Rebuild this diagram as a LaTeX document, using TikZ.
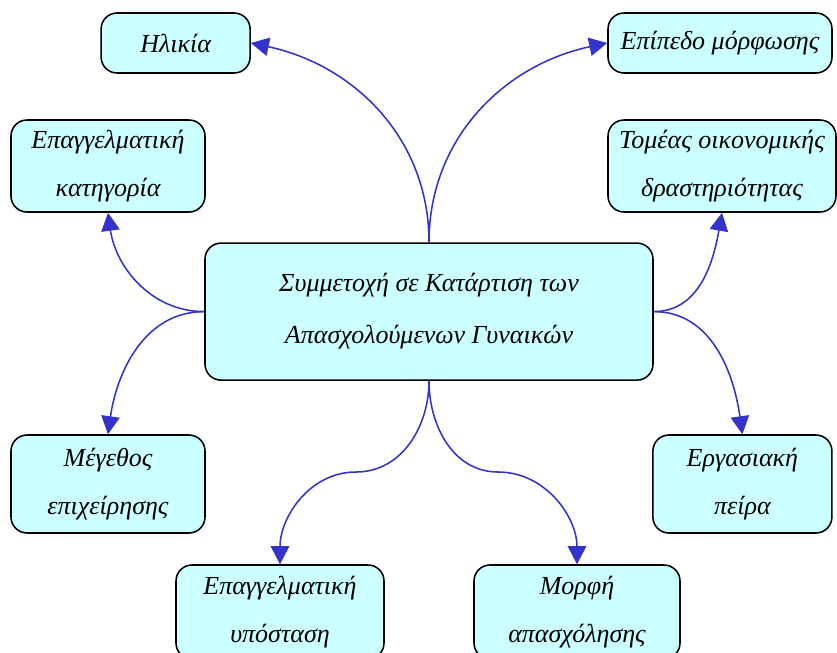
\documentclass[tikz,border=0pt]{standalone}
\usepackage{fontspec}
\setmainfont{Liberation Serif}
\usetikzlibrary{arrows.meta}

\definecolor{boxfill}{RGB}{204,255,255}
\definecolor{linkblue}{RGB}{51,51,204}

\begin{document}
\begin{tikzpicture}[
	box/.style={draw=black, line width=1.1pt, fill=boxfill, rounded corners=0.4cm,
		align=center, inner sep=2pt, font=\itshape\fontsize{18.5}{34}\selectfont},
	link/.style={draw=linkblue, line width=1.1pt,
		-{Triangle[length=0.45cm, width=0.46cm]}}
	]
	
	% Πλαίσιο της εικόνας
	\useasboundingbox (0,0) rectangle (20.925,-16.3);
	
	% Κεντρικός κόμβος
	\node[box, minimum width=11.2cm, minimum height=3.425cm,
		font=\itshape\fontsize{18.5}{37}\selectfont] (kentro) at (10.725,-7.79)
		{Συμμετοχή σε Κατάρτιση των\\Απασχολούμενων Γυναικών};
	
	% Κόμβοι γύρω από το κέντρο
	\node[box, minimum width=3.725cm, minimum height=1.5cm] (ilikia) at (4.39,-1.075) {Ηλικία};
	\node[box, minimum width=5.6cm, minimum height=1.5cm] (morfosi) at (18.0,-1.075) {Επίπεδο μόρφωσης};
	\node[box, minimum width=4.85cm, minimum height=2.3cm] (katigoria) at (2.7,-4.15) {Επαγγελματική\\κατηγορία};
	\node[box, minimum width=5.7cm, minimum height=2.3cm] (tomeas) at (18.05,-4.15) {Τομέας οικονομικής\\δραστηριότητας};
	\node[box, minimum width=4.85cm, minimum height=2.45cm] (megethos) at (2.7,-12.1) {Μέγεθος\\επιχείρησης};
	\node[box, minimum width=4.475cm, minimum height=2.45cm] (peira) at (18.56,-12.1) {Εργασιακή\\πείρα};
	\node[box, minimum width=5.2cm, minimum height=2.35cm] (ypostasi) at (7.0,-15.3) {Επαγγελματική\\υπόσταση};
	\node[box, minimum width=5.15cm, minimum height=2.35cm] (morfi) at (14.425,-15.3) {Μορφή\\απασχόλησης};
	
	% Σημεία καμπής των κάτω βελών
	\coordinate (kampi1) at (8.9,-11.8);
	\coordinate (kampi2) at (12.45,-11.8);
	
	% Καμπύλα βέλη από το κέντρο
	\draw[link] (kentro.north) to[out=90, in=-12] (ilikia.east);
	\draw[link] (kentro.north) to[out=90, in=192] (morfosi.west);
	\draw[link] (kentro.west) to[out=180, in=-82] (katigoria.south);
	\draw[link] (kentro.east) to[out=0, in=-100] (tomeas.south);
	\draw[link] (kentro.west) to[out=180, in=82] (megethos.north);
	\draw[link] (kentro.east) to[out=0, in=98] (peira.north);
	\draw[link] (kentro.south) to[out=-90, in=0] (kampi1) to[out=180, in=90] (ypostasi.north);
	\draw[link] (kentro.south) to[out=-90, in=180] (kampi2) to[out=0, in=90] (morfi.north);
	
\end{tikzpicture}
\end{document}
